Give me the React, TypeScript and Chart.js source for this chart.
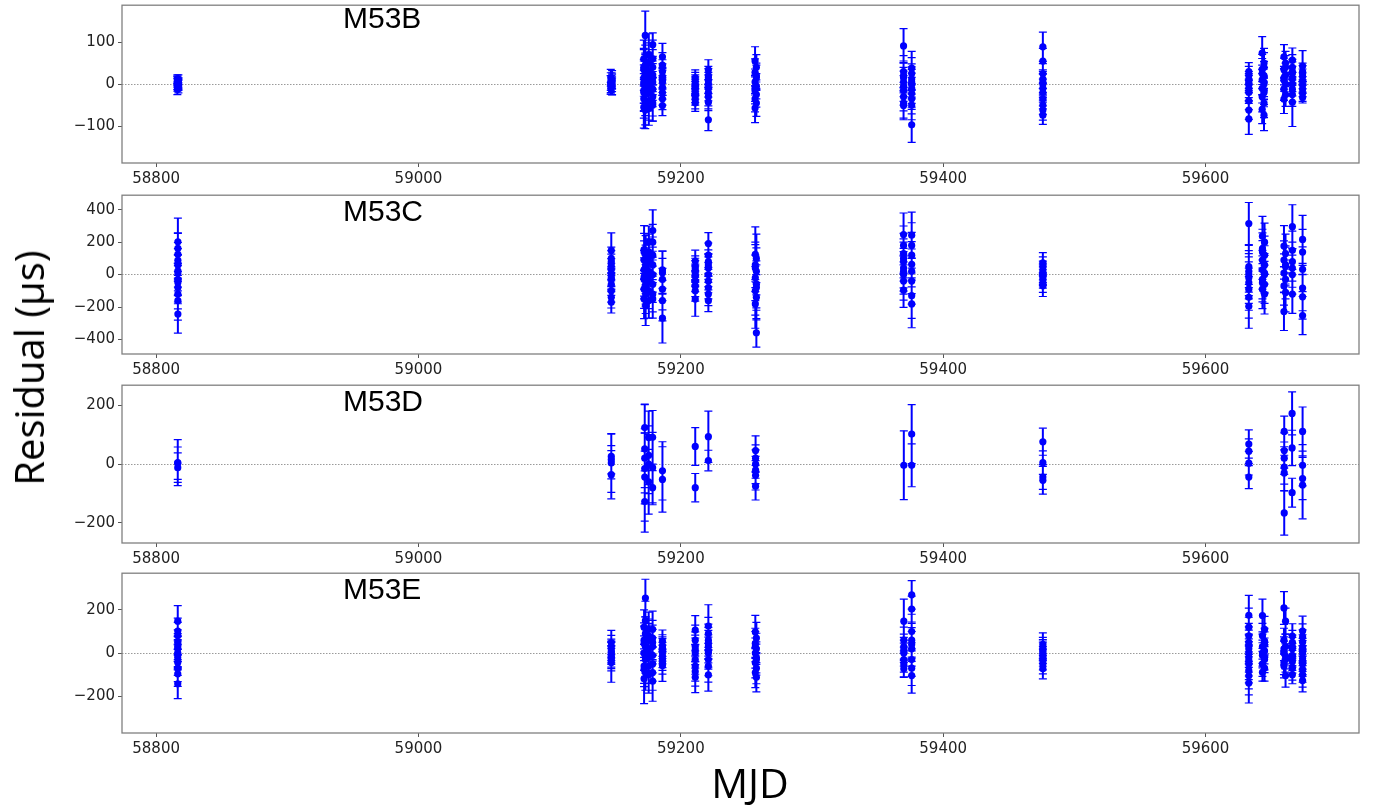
import React, { useEffect, useRef } from "react";
import { Chart, registerables } from "chart.js";

Chart.register(...registerables);

// ---------------- shared axis data ----------------
const X_MIN = 58774;
const X_MAX = 59717;
const xTicks = [58800, 59000, 59200, 59400, 59600];

// ---------------- M53B ----------------
const B_epochs = [58816.2, 58817.0, 59146.6, 59147.6, 59171.8, 59172.9, 59175.6, 59178.6, 59186.0, 59211.0, 59221.0, 59256.6, 59257.6, 59369.8, 59376.0, 59476.0, 59633.0, 59643.2, 59644.6, 59659.8, 59661.0, 59666.2, 59674.0];
const B_res = [
  [12, 5, 0, -6, -12, 8],
  [10, 2, -3, -9, 4, -1],
  [15, 6, -2, -10, 0],
  [10, 2, -6, 8, -4],
  [60, 35, 15, 0, -15, -35, -55, 40, -20, 5],
  [116, 45, 25, 8, -8, -25, -45, -62, 20, 30],
  [70, 50, 30, 10, -5, -20, -40, -58, 25, -10],
  [94, 60, 40, 22, 5, -12, -30, -45, 15, -50],
  [65, 45, 30, 18, 5, -8, -20, -35, -51, 10],
  [15, 8, 0, -8, -15, -22, -30, -38, -45, -5],
  [34, 20, 8, 0, -10, -20, -30, -43, -85, 15],
  [55, 28, 5, -15, -35, -57, -10],
  [40, 15, -5, -25, -45, 20],
  [91, 30, 15, 5, -5, -15, -30, -45, -51, 20],
  [38, 25, 12, 0, -10, -22, -35, -50, -97, 5],
  [89, 55, 25, 12, 0, -10, -20, -35, -50, -62, -74, 5],
  [30, 20, 10, 0, -10, -20, -40, -62, -83, 5],
  [74, 35, 10, -10, -30, -60, 25],
  [50, 20, 0, -20, -45, -74, 5, -15, 40],
  [65, 35, 10, -12, -36, 15],
  [50, 22, 0, -25, 40],
  [57, 40, 25, 12, 0, -12, -25, -43, 30],
  [43, 30, 18, 8, -2, -12, -22, -32, 25],
];
const B_err = [
  [10, 12, 13, 11, 13, 11],
  [12, 12, 12, 12, 11, 12],
  [20, 21, 22, 14, 20],
  [22, 20, 20, 18, 21],
  [45, 50, 44, 46, 48, 46, 50, 42, 45, 50],
  [58, 48, 45, 47, 45, 50, 52, 44, 40, 44],
  [50, 48, 46, 45, 50, 44, 46, 40, 48, 44],
  [28, 45, 42, 40, 44, 42, 46, 43, 40, 38],
  [32, 30, 28, 30, 32, 28, 30, 26, 24, 30],
  [19, 20, 22, 20, 21, 22, 20, 21, 20, 22],
  [24, 22, 20, 22, 21, 20, 22, 20, 26, 22],
  [34, 32, 31, 32, 31, 35, 31],
  [30, 30, 30, 30, 32, 30],
  [41, 38, 36, 35, 36, 35, 34, 36, 34, 35],
  [40, 38, 36, 35, 36, 38, 36, 35, 42, 36],
  [35, 30, 24, 22, 24, 22, 23, 24, 22, 24, 22, 25],
  [21, 22, 20, 21, 22, 20, 21, 22, 37, 20],
  [39, 36, 35, 35, 36, 34, 36],
  [35, 34, 36, 34, 35, 37, 35, 34, 35],
  [29, 27, 27, 27, 34, 27],
  [28, 28, 28, 28, 28],
  [29, 30, 28, 30, 28, 30, 28, 58, 29],
  [37, 20, 18, 19, 20, 18, 19, 13, 19],
];
const B_yTicks = [-100, 0, 100];

// ---------------- M53C ----------------
const C_epochs = [58816.6, 59147.0, 59172.0, 59173.2, 59175.6, 59178.6, 59186.0, 59211.0, 59221.0, 59256.8, 59257.6, 59369.8, 59376.0, 59476.0, 59633.0, 59643.4, 59645.0, 59659.8, 59661.0, 59666.2, 59674.0];
const C_res = [
  [202, 162, 125, 88, 23, -49, -80, -120, -161, -243, 60, 10, -30],
  [149, 100, 60, 30, 0, -30, -60, -100, -140, -171, 80, -20],
  [155, 90, 30, -30, -90, -150, 140, -15],
  [120, 60, 0, -60, -120, -192, 45, -75],
  [200, 140, 80, 20, -40, -100, -160, 110, -10],
  [272, 200, 120, 60, 0, -60, -120, -150],
  [12, -30, -90, -161, -269, 30],
  [84, 50, 20, -10, -40, -70, -100, -151, 0, 35],
  [192, 120, 80, 40, 0, -40, -80, -120, -161, 60],
  [125, 60, -20, -100, -181, 40],
  [100, 20, -60, -140, -359, -80],
  [247, 180, 130, 80, 40, 0, -40, -96, 100, 20],
  [243, 180, 64, 20, -40, -130, -181, 120],
  [73, 50, 25, 0, -25, -50, -69, 10, -10],
  [315, 50, 20, -20, -50, -90, -140, -196, 0],
  [237, 160, 90, 30, -30, -90, 140, -50],
  [200, 120, 60, 0, -60, -120, 10],
  [176, 90, 10, -70, -228],
  [130, 50, -30, -110, 60],
  [296, 80, 40, 0, -120, 150],
  [217, 139, 33, -83, -137, -253],
];
const C_err = [
  [147, 95, 130, 110, 100, 120, 100, 92, 120, 118, 100, 110, 100],
  [108, 70, 66, 68, 70, 66, 68, 70, 66, 66, 68, 70],
  [147, 118, 120, 120, 118, 122, 115, 118],
  [120, 122, 118, 122, 120, 122, 120, 120],
  [100, 110, 108, 110, 112, 110, 108, 110, 112],
  [128, 110, 112, 110, 108, 112, 110, 119],
  [133, 130, 128, 125, 153, 115],
  [67, 65, 66, 64, 65, 66, 64, 106, 65, 66],
  [67, 75, 72, 70, 74, 72, 70, 72, 67, 70],
  [169, 140, 140, 150, 150, 145],
  [150, 145, 145, 140, 88, 140],
  [133, 120, 125, 120, 122, 120, 118, 106, 120, 122],
  [143, 140, 140, 138, 142, 140, 147, 140],
  [62, 60, 58, 60, 58, 60, 66, 60, 58],
  [130, 130, 128, 130, 128, 130, 128, 135, 130],
  [122, 120, 120, 120, 120, 120, 118, 118],
  [118, 118, 118, 118, 118, 123, 120],
  [126, 118, 118, 118, 117],
  [120, 120, 120, 120, 118],
  [135, 120, 118, 120, 119, 118],
  [148, 140, 138, 140, 138, 118],
];
const C_yTicks = [-400, -200, 0, 200, 400];

// ---------------- M53D ----------------
const D_epochs = [58816.5, 59147.0, 59172.5, 59175.5, 59178.5, 59186.0, 59211.0, 59221.0, 59257.0, 59370.0, 59376.0, 59476.0, 59633.0, 59660.0, 59666.0, 59674.0];
const D_res = [
  [5, -12, 3],
  [26, 15, 4, -36],
  [124, 52, -15, -44, -127, 20],
  [90, 0, -60, 30],
  [91, -12, -80],
  [-23, -52],
  [60, -80],
  [93, 12],
  [46, 20, 0, -20, -38, -75],
  [-4],
  [102, -4],
  [76, 5, -44, -55],
  [68, 44, 3, -44],
  [111, 46, 20, -10, -30, -166],
  [172, 55, -97],
  [111, -4, -49, -71],
];
const D_err = [
  [78, 50, 55],
  [76, 48, 100, 82],
  [80, 150, 120, 150, 104, 100],
  [90, 100, 110, 100],
  [91, 120, 58],
  [99, 111],
  [64, 48],
  [87, 35],
  [50, 45, 48, 46, 50, 47],
  [117],
  [100, 73],
  [46, 40, 42, 47],
  [48, 42, 40, 39],
  [52, 60, 55, 58, 60, 75],
  [73, 60, 49],
  [83, 70, 72, 115],
];
const D_yTicks = [-200, 0, 200];

// ---------------- M53E ----------------
const E_epochs = [58816.5, 59147.0, 59172.0, 59173.0, 59175.5, 59178.5, 59186.0, 59211.0, 59221.0, 59256.8, 59257.6, 59370.0, 59376.0, 59476.0, 59633.0, 59643.4, 59645.0, 59659.8, 59661.0, 59666.2, 59674.0];
const E_res = [
  [148, 102, 80, 50, 20, 0, -20, -43, -70, -96, -142, 30, -5],
  [49, 30, 15, 0, -15, -30, -43, 5, -20],
  [120, 60, 0, -60, -119, 45, -75],
  [255, 90, 30, -30, -90, -15, 150],
  [110, 60, 20, -20, -60, -100, 80, 0],
  [110, 70, 30, -10, -50, -90, -130, 50],
  [56, 35, 15, 0, -15, -30, -45, -58, 25],
  [107, 60, 30, 0, -30, -60, -85, -112, 15],
  [125, 90, 60, 30, 0, -30, -60, -101, 45, 10],
  [98, 45, 0, -45, -90, 30],
  [70, 20, -20, -70, -112, -30],
  [148, 60, 30, 0, -30, -50, -73, 15],
  [270, 204, 100, 60, 20, -30, -70, -104, 40],
  [41, 25, 10, 0, -15, -30, -50, -73, 15],
  [175, 120, 80, 50, 20, 0, -20, -50, -80, -105, -139, 35, -35],
  [174, 80, 30, -10, -50, -89, 0],
  [110, 55, 10, -30, -70, 40, -20],
  [209, 60, 0, -60, 20, -45],
  [148, 30, -30, -104, -15],
  [79, 50, 20, -10, -40, -70, -100, 30, -25],
  [102, 75, 50, 25, 0, -25, -50, -75, -100, -127, 10, -40],
];
const E_err = [
  [72, 60, 62, 58, 60, 62, 58, 60, 62, 58, 69, 60, 62],
  [56, 52, 50, 52, 50, 52, 92, 50, 52],
  [80, 80, 80, 80, 115, 80, 80],
  [87, 78, 82, 78, 82, 78, 90],
  [80, 78, 80, 82, 80, 85, 78, 80],
  [84, 82, 80, 82, 80, 82, 93, 80],
  [51, 50, 52, 50, 52, 50, 52, 73, 50],
  [67, 70, 68, 70, 68, 70, 68, 71, 68],
  [99, 75, 74, 75, 74, 75, 74, 75, 74, 75],
  [77, 70, 70, 70, 70, 70],
  [72, 72, 72, 72, 68, 72],
  [102, 60, 58, 60, 58, 60, 39, 58],
  [66, 60, 80, 78, 80, 78, 80, 81, 78],
  [53, 48, 46, 48, 46, 48, 46, 46, 48],
  [92, 88, 86, 88, 86, 88, 86, 88, 86, 88, 92, 86, 88],
  [76, 58, 58, 58, 58, 41, 60],
  [60, 60, 60, 60, 60, 58, 58],
  [76, 55, 55, 55, 55, 55],
  [60, 58, 58, 54, 58],
  [57, 55, 53, 55, 53, 55, 42, 53, 55],
  [69, 60, 58, 60, 58, 60, 58, 60, 58, 53, 58, 60],
];
const E_yTicks = [-200, 0, 200];

// ---------------- layout (positions & styles) ----------------
const W = 1374;
const BLUE = "#0000ff";
const TICK_FONT = { family: "'DejaVu Sans', sans-serif", size: 15 };

type PanelDef = {
  name: string;
  epochs: number[];
  res: number[][];
  err: number[][];
  yMin: number;
  yMax: number;
  yTicks: number[];
  top: number;
  height: number;
  padTop: number;
  xAxisH: number;
  labelTop: number;
};

const panels: PanelDef[] = [
  { name: "M53B", epochs: B_epochs, res: B_res, err: B_err, yMin: -188, yMax: 188, yTicks: B_yTicks, top: 0, height: 190, padTop: 1, xAxisH: 27, labelTop: 3 },
  { name: "M53C", epochs: C_epochs, res: C_res, err: C_err, yMin: -490, yMax: 490, yTicks: C_yTicks, top: 190, height: 190, padTop: 4, xAxisH: 26, labelTop: 196 },
  { name: "M53D", epochs: D_epochs, res: D_res, err: D_err, yMin: -268, yMax: 268, yTicks: D_yTicks, top: 380, height: 188, padTop: 3, xAxisH: 25, labelTop: 386 },
  { name: "M53E", epochs: E_epochs, res: E_res, err: E_err, yMin: -370, yMax: 370, yTicks: E_yTicks, top: 568, height: 241, padTop: 3, xAxisH: 76, labelTop: 574 },
];

const fmtTick = (v: number) => (v < 0 ? "\u2212" + Math.abs(v) : String(v));

const framePlugin = {
  id: "frame",
  afterDatasetsDraw(chart: any) {
    const { ctx, chartArea } = chart;
    const { left, top, right, bottom } = chartArea;
    ctx.save();
    ctx.strokeStyle = "#808080";
    ctx.lineWidth = 1.3;
    ctx.strokeRect(left, top, right - left, bottom - top);
    ctx.restore();
  },
};

function Panel({ p }: { p: PanelDef }) {
  const ref = useRef<HTMLCanvasElement | null>(null);

  useEffect(() => {
    if (!ref.current) return;
    const points: { x: number; y: number }[] = [];
    const bars: { x: number; y: number | null }[] = [];
    p.epochs.forEach((m, i) => {
      p.res[i].forEach((r, j) => {
        const e = p.err[i][j];
        points.push({ x: m, y: r });
        bars.push({ x: m, y: r - e }, { x: m, y: r + e }, { x: m, y: null });
      });
    });

    const chart = new Chart(ref.current, {
      type: "scatter",
      data: {
        datasets: [
          {
            type: "scatter",
            data: points,
            pointRadius: 3.6,
            pointBackgroundColor: BLUE,
            pointBorderColor: BLUE,
            pointBorderWidth: 0,
            order: 0,
          } as any,
          {
            type: "line",
            data: bars,
            borderColor: BLUE,
            borderWidth: 2,
            showLine: true,
            spanGaps: false,
            fill: false,
            tension: 0,
            pointStyle: "line",
            pointRadius: 4,
            pointBorderColor: BLUE,
            pointBorderWidth: 1.2,
            order: 1,
          } as any,
        ],
      },
      options: {
        responsive: false,
        animation: false,
        events: [],
        layout: { padding: { top: p.padTop, left: 0, right: 15, bottom: 0 } },
        plugins: { legend: { display: false }, tooltip: { enabled: false } },
        scales: {
          x: {
            type: "linear",
            min: X_MIN,
            max: X_MAX,
            afterBuildTicks: (s: any) => {
              s.ticks = xTicks.map((v) => ({ value: v }));
            },
            afterFit: (s: any) => {
              s.height = p.xAxisH;
              s.paddingLeft = 0;
              s.paddingRight = 0;
            },
            ticks: {
              callback: (v: any) => String(v),
              font: TICK_FONT,
              color: "#222",
              padding: 3,
              maxRotation: 0,
              autoSkip: false,
            },
            grid: {
              color: "rgba(0,0,0,0)",
              tickColor: "#555",
              tickLength: 4,
              tickWidth: 1,
            },
            border: { display: false },
          },
          y: {
            type: "linear",
            min: p.yMin,
            max: p.yMax,
            afterBuildTicks: (s: any) => {
              s.ticks = p.yTicks.map((v) => ({ value: v }));
            },
            afterFit: (s: any) => {
              s.width = 122;
              s.paddingTop = 0;
              s.paddingBottom = 0;
            },
            ticks: {
              callback: (v: any) => fmtTick(Number(v)),
              font: TICK_FONT,
              color: "#222",
              padding: 3,
            },
            grid: {
              color: (ctx: any) => (ctx.tick && ctx.tick.value === 0 ? "#9a9a9a" : "rgba(0,0,0,0)"),
              lineWidth: 1,
              tickColor: "#555",
              tickLength: 4,
              tickWidth: 1,
            },
            border: { display: false, dash: [1.5, 1.5] },
          },
        },
      } as any,
      plugins: [framePlugin],
    });
    return () => chart.destroy();
  }, [p]);

  return (
    <canvas
      ref={ref}
      width={W}
      height={p.height}
      style={{ position: "absolute", left: 0, top: p.top, width: W, height: p.height }}
    />
  );
}

export default function App() {
  return (
    <div
      style={{
        position: "absolute",
        left: 0,
        top: 0,
        width: W,
        height: 809,
        background: "#fff",
        overflow: "hidden",
      }}
    >
      {panels.map((p) => (
        <Panel key={p.name} p={p} />
      ))}
      {panels.map((p) => (
        <div
          key={p.name + "-label"}
          style={{
            position: "absolute",
            left: 343,
            top: p.labelTop,
            fontFamily: "'Liberation Sans', Arial, sans-serif",
            fontSize: 30,
            lineHeight: "30px",
            color: "#000",
            whiteSpace: "nowrap",
          }}
        >
          {p.name}
        </div>
      ))}
      <div
        style={{
          position: "absolute",
          left: 29,
          top: 368,
          transform: "translate(-50%, -50%) rotate(-90deg)",
          fontFamily: "'Open Sans', sans-serif",
          fontSize: 40,
          lineHeight: "40px",
          color: "#000",
          whiteSpace: "nowrap",
        }}
      >
        Residual (μs)
      </div>
      <div
        style={{
          position: "absolute",
          left: 750,
          top: 762,
          transform: "translateX(-50%)",
          fontFamily: "'Open Sans', sans-serif",
          fontSize: 41,
          lineHeight: "41px",
          color: "#000",
          whiteSpace: "nowrap",
        }}
      >
        MJD
      </div>
    </div>
  );
}
